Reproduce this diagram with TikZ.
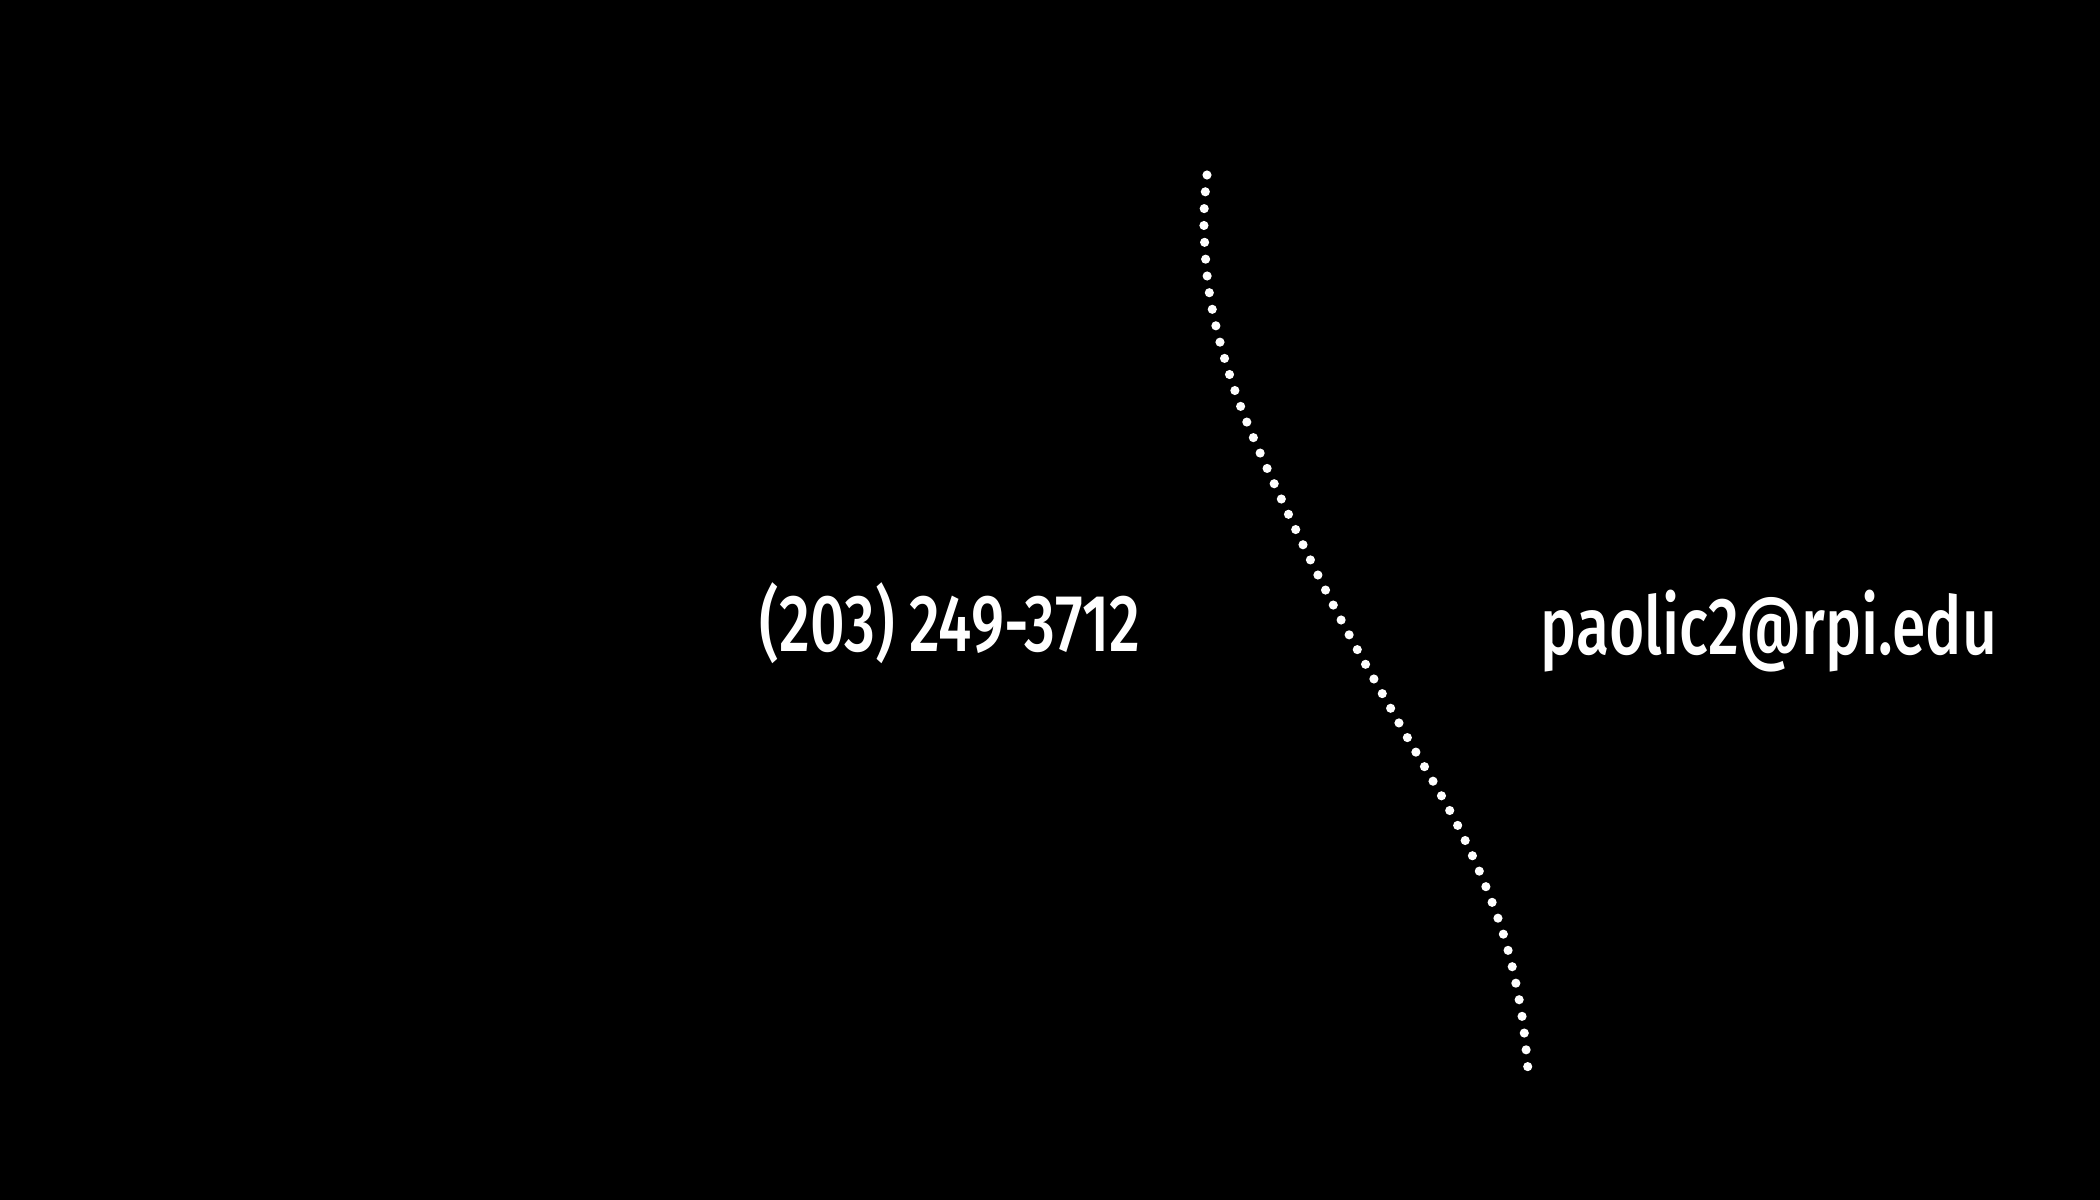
\documentclass[tikz,border=0pt]{standalone}
\usepackage{fontspec}
\setmainfont{Fira Sans}[FakeStretch=0.75, BoldFont={Fira Sans Medium}, BoldFeatures={FakeStretch=0.75}]
\usepackage{tikz}

\tikzset{
  contact/.style={white, anchor=base, font=\fontsize{23}{27}\selectfont\bfseries},
  dotline/.style={white, line width=2.6pt, line cap=round, dash pattern=on 0pt off 4.8pt}
}

\begin{document}
\begin{tikzpicture}
%background
\fill[black] (0,0) rectangle (21,12);
\useasboundingbox (0,0) rectangle (21,12);

%dotted divider
\draw[dotline] plot[smooth, tension=0.6] coordinates {(12.07,10.25) (12.04,9.72) (12.12,8.92) (12.39,7.98) (12.86,6.91) (13.39,5.84) (13.99,4.77) (14.60,3.70) (15.00,2.76) (15.20,1.96) (15.28,1.30)};

\node[contact] (phone) at (9.50,5.48) {(203) 249-3712};
\node[contact] (email) at (17.69,5.45) {paolic2@rpi.edu};

\end{tikzpicture}
\end{document}
